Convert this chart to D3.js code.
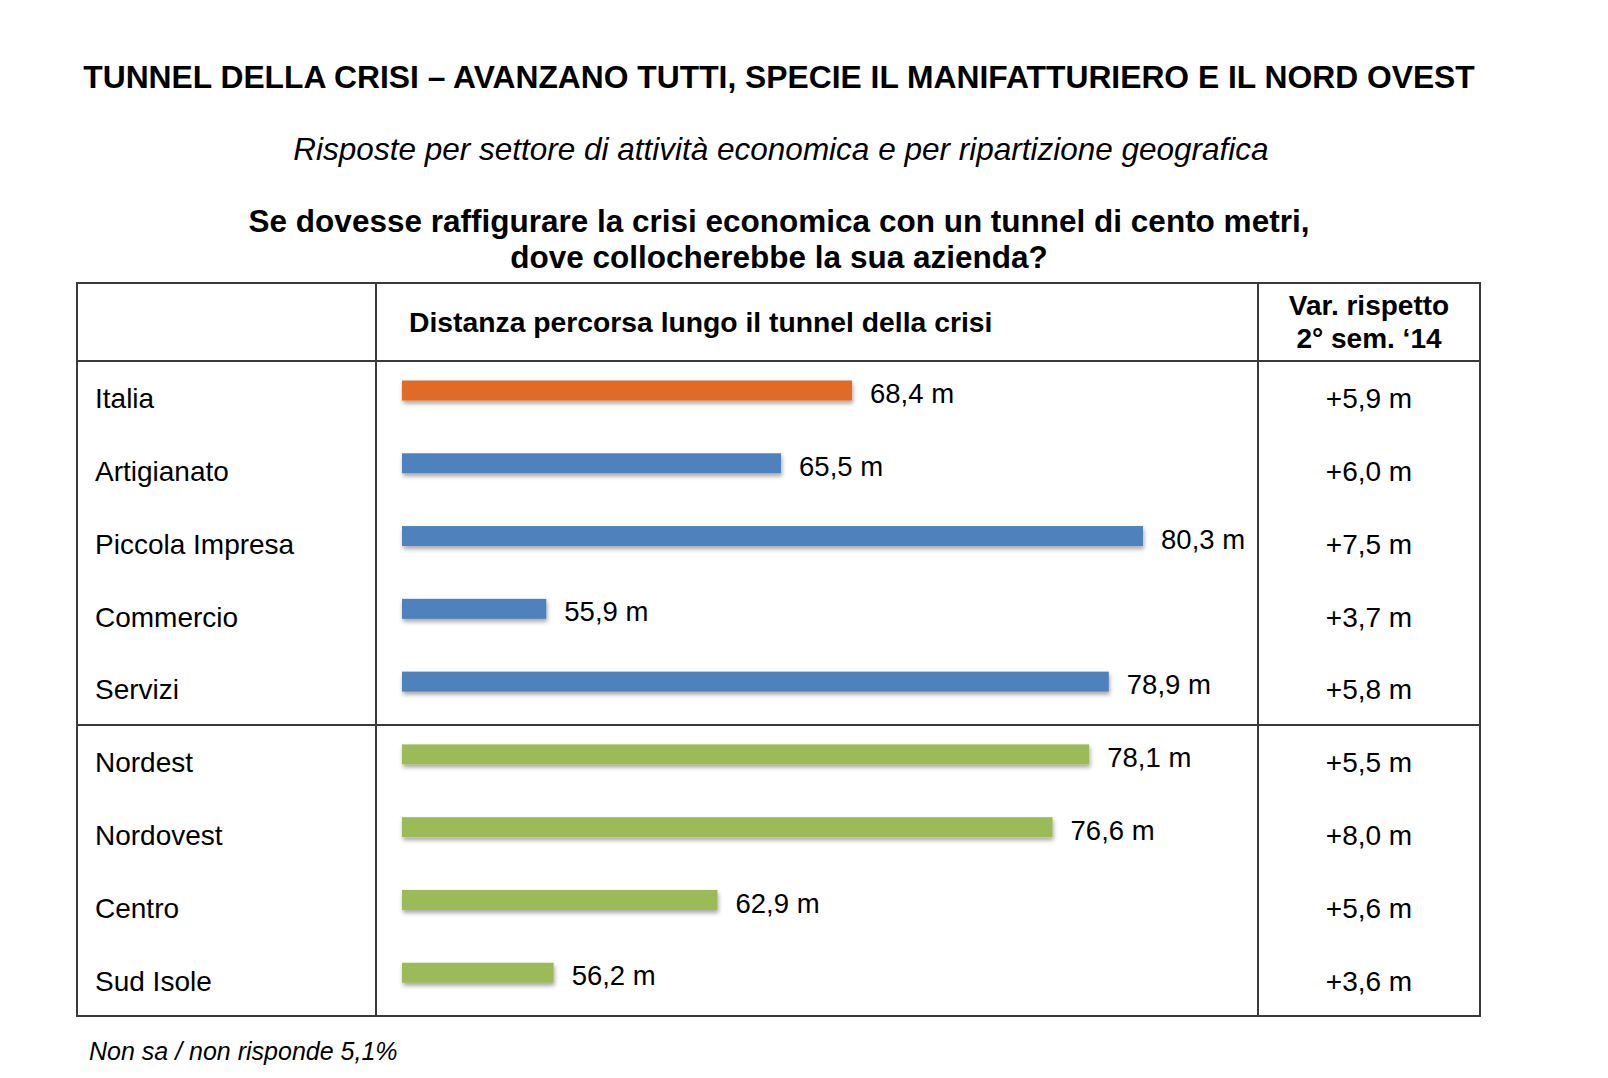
<!DOCTYPE html>
<html>
<head>
<meta charset="utf-8">
<script src="https://cdn.jsdelivr.net/npm/d3@7"></script>
<style>
  body { margin: 0; background: #fff; }
  text { font-family: "Liberation Sans", Arial, sans-serif; fill: #000; }
</style>
</head>
<body>
<script>
// dimensioni
let width = 1608;
let height = 1078;

// dati
let categories = ['Italia', 'Artigianato', 'Piccola Impresa', 'Commercio', 'Servizi',
  'Nordest', 'Nordovest', 'Centro', 'Sud Isole'];
let distanza = [68.4, 65.5, 80.3, 55.9, 78.9, 78.1, 76.6, 62.9, 56.2];
let variazione = ['+5,9 m', '+6,0 m', '+7,5 m', '+3,7 m', '+5,8 m', '+5,5 m', '+8,0 m', '+5,6 m', '+3,6 m'];
let gruppo = ['totale', 'settore', 'settore', 'settore', 'settore', 'area', 'area', 'area', 'area'];

let colori = { totale: '#e06a25', settore: '#4f81bd', area: '#9bbb59' };

// tabella
let table = { left: 77, col1: 376, col2: 1258, right: 1480, top: 283, head: 361, bottom: 1016 };

let data = categories.map((c, i) => ({
  name: c, value: distanza[i], varia: variazione[i], group: gruppo[i]
}));

let x = d3.scaleLinear()
  .domain([50, 85])
  .range([402, table.col2]);

let y = d3.scaleBand()
  .domain(categories)
  .range([table.head, table.bottom]);

let fmt = v => d3.format('.1f')(v).replace('.', ',') + ' m';

let svg = d3.select('body')
  .append('svg')
  .attr('width', width)
  .attr('height', height);

let defs = svg.append('defs');
let f = defs.append('filter')
  .attr('id', 'ombra')
  .attr('x', '-5%').attr('y', '-50%')
  .attr('width', '110%').attr('height', '250%');
f.append('feDropShadow')
  .attr('dx', 1).attr('dy', 3)
  .attr('stdDeviation', 2)
  .attr('flood-color', '#000')
  .attr('flood-opacity', 0.35);

// titoli
svg.append('text')
  .attr('x', 779).attr('y', 77).attr('dy', '0.35em')
  .attr('text-anchor', 'middle')
  .attr('font-size', 31.8).attr('font-weight', 'bold')
  .text('TUNNEL DELLA CRISI – AVANZANO TUTTI, SPECIE IL MANIFATTURIERO E IL NORD OVEST');

svg.append('text')
  .attr('x', 781).attr('y', 149).attr('dy', '0.35em')
  .attr('text-anchor', 'middle')
  .attr('font-size', 31.5).attr('font-style', 'italic')
  .text('Risposte per settore di attività economica e per ripartizione geografica');

svg.append('text')
  .attr('x', 779).attr('y', 221).attr('dy', '0.35em')
  .attr('text-anchor', 'middle')
  .attr('font-size', 31.5).attr('font-weight', 'bold')
  .text('Se dovesse raffigurare la crisi economica con un tunnel di cento metri,');

svg.append('text')
  .attr('x', 779).attr('y', 257).attr('dy', '0.35em')
  .attr('text-anchor', 'middle')
  .attr('font-size', 31.5).attr('font-weight', 'bold')
  .text('dove collocherebbe la sua azienda?');

// intestazioni colonne
svg.append('text')
  .attr('x', 409).attr('y', 322).attr('dy', '0.35em')
  .attr('font-size', 28.3).attr('font-weight', 'bold')
  .text('Distanza percorsa lungo il tunnel della crisi');

svg.append('text')
  .attr('x', (table.col2 + table.right) / 2).attr('y', 305).attr('dy', '0.35em')
  .attr('text-anchor', 'middle')
  .attr('font-size', 28).attr('font-weight', 'bold')
  .text('Var. rispetto');

svg.append('text')
  .attr('x', (table.col2 + table.right) / 2).attr('y', 338).attr('dy', '0.35em')
  .attr('text-anchor', 'middle')
  .attr('font-size', 28).attr('font-weight', 'bold')
  .text('2° sem. ‘14');

// bordi tabella
let grid = svg.append('g')
  .attr('stroke', '#3a3a3a')
  .attr('stroke-width', 2)
  .attr('fill', 'none');

grid.append('rect')
  .attr('x', table.left).attr('y', table.top)
  .attr('width', table.right - table.left)
  .attr('height', table.bottom - table.top);

[table.col1, table.col2].forEach(cx => {
  grid.append('line')
    .attr('x1', cx).attr('x2', cx)
    .attr('y1', table.top).attr('y2', table.bottom);
});

[table.head, y('Nordest')].forEach(cy => {
  grid.append('line')
    .attr('x1', table.left).attr('x2', table.right)
    .attr('y1', cy).attr('y2', cy);
});

// righe
let rows = svg.selectAll('.riga')
  .data(data)
  .enter()
  .append('g')
  .attr('class', 'riga')
  .attr('transform', d => `translate(0,${y(d.name) + 37.5})`);

rows.append('text')
  .attr('x', 95).attr('dy', '0.35em')
  .attr('font-size', 28)
  .text(d => d.name);

rows.append('rect')
  .attr('x', x(50))
  .attr('y', -18)
  .attr('width', d => x(d.value) - x(50))
  .attr('height', 20)
  .attr('fill', d => colori[d.group])
  .attr('filter', 'url(#ombra)');

rows.append('text')
  .attr('x', d => x(d.value) + 18)
  .attr('y', -5).attr('dy', '0.35em')
  .attr('font-size', 27.5)
  .text(d => fmt(d.value));

rows.append('text')
  .attr('x', (table.col2 + table.right) / 2)
  .attr('dy', '0.35em')
  .attr('text-anchor', 'middle')
  .attr('font-size', 28)
  .text(d => d.varia);

// nota
svg.append('text')
  .attr('x', 89).attr('y', 1051).attr('dy', '0.35em')
  .attr('font-size', 25).attr('font-style', 'italic')
  .text('Non sa / non risponde 5,1%');
</script>
</body>
</html>
